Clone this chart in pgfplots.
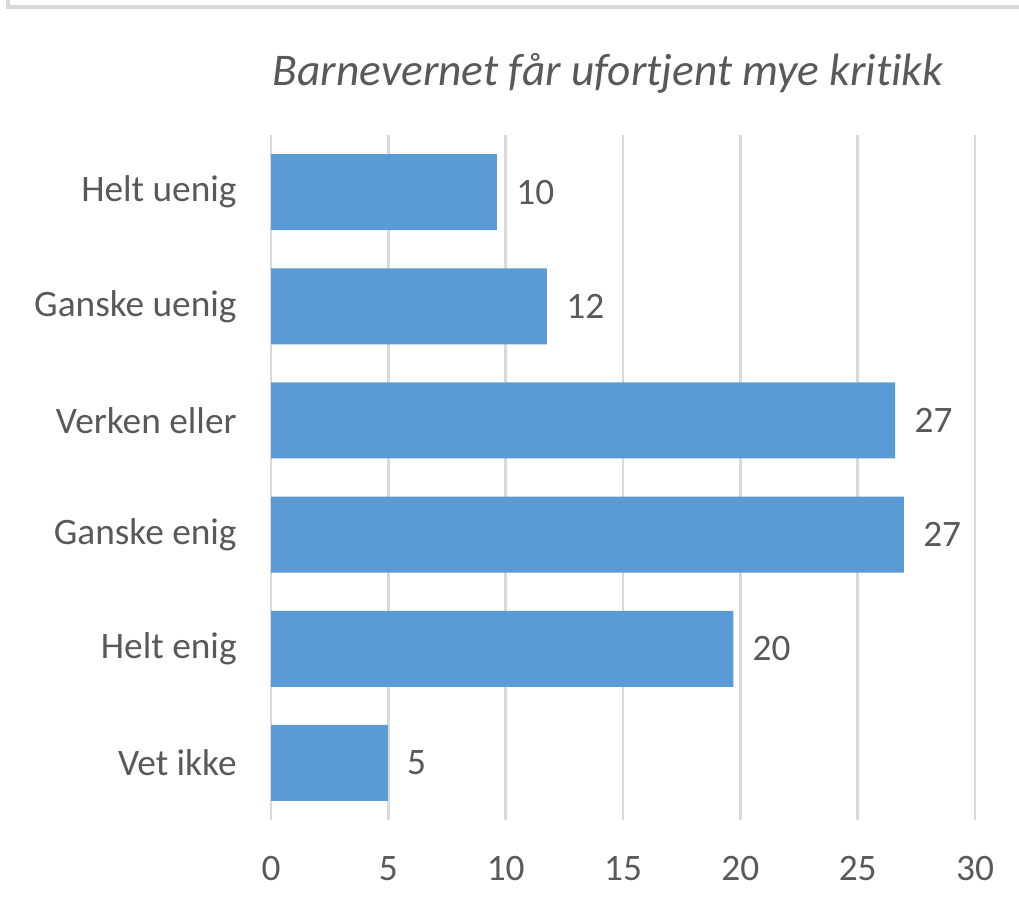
\documentclass[border=0pt]{standalone}
\usepackage{pgfplots}
\pgfplotsset{compat=1.18}
\usepackage{pgfplotstable}
\usepackage{fontspec}
\setmainfont{Carlito}[Ligatures=NoCommon]

\definecolor{barblue}{HTML}{5B9BD5}
\definecolor{txtgray}{HTML}{595959}
\definecolor{gridgray}{HTML}{D9D9D9}

% x = share, y = category index (0 = top)
\pgfplotstableread{
y x lbl
0 9.63 10
1 11.76 12
2 26.6 27
3 26.97 27
4 19.7 20
5 4.98 5
}\svar

\begin{document}
\begin{tikzpicture}
\path[use as bounding box] (0,0) rectangle (764.25pt,682.5pt);
% chart frame (only top and left edge are in the crop)
\draw[gridgray, line width=2.5pt] (6pt,682.5pt) -- (6pt,677.25pt) -- (764.25pt,677.25pt);

\node[anchor=base, text=txtgray, font=\fontsize{34}{40}\selectfont\itshape]
  at (456pt,618pt) {Barnevernet får ufortjent mye kritikk};

\begin{axis}[
    at={(203.25pt,67.5pt)}, anchor=south west,
    scale only axis,
    width=528pt, height=513.75pt,
    xbar, bar width=57pt,
    xmin=0, xmax=30,
    ymin=-0.5, ymax=5.5,
    y dir=reverse,
    xtick={0,5,...,30},
    ytick={0,...,5},
    yticklabels={Helt uenig, Ganske uenig, Verken eller, Ganske enig, Helt enig, Vet ikke},
    xmajorgrids,
    grid style={gridgray, line width=2.2pt},
    axis line style={draw=none},
    tick style={draw=none},
    ticklabel style={text=txtgray, font=\fontsize{28}{33}\selectfont},
    /pgf/number format/assume math mode=true,
    xticklabel style={yshift=-24pt},
    yticklabel style={xshift=-18pt},
    nodes near coords={\pgfmathprintnumber{\pgfplotspointmeta}},
    nodes near coords style={text=txtgray, font=\fontsize{28}{33}\selectfont,
      anchor=west, xshift=11pt, /pgf/number format/assume math mode=true},
    point meta=explicit,
]
\addplot[fill=barblue, draw=none] table[x=x, y=y, meta=lbl] {\svar};
\end{axis}
\end{tikzpicture}
\end{document}
